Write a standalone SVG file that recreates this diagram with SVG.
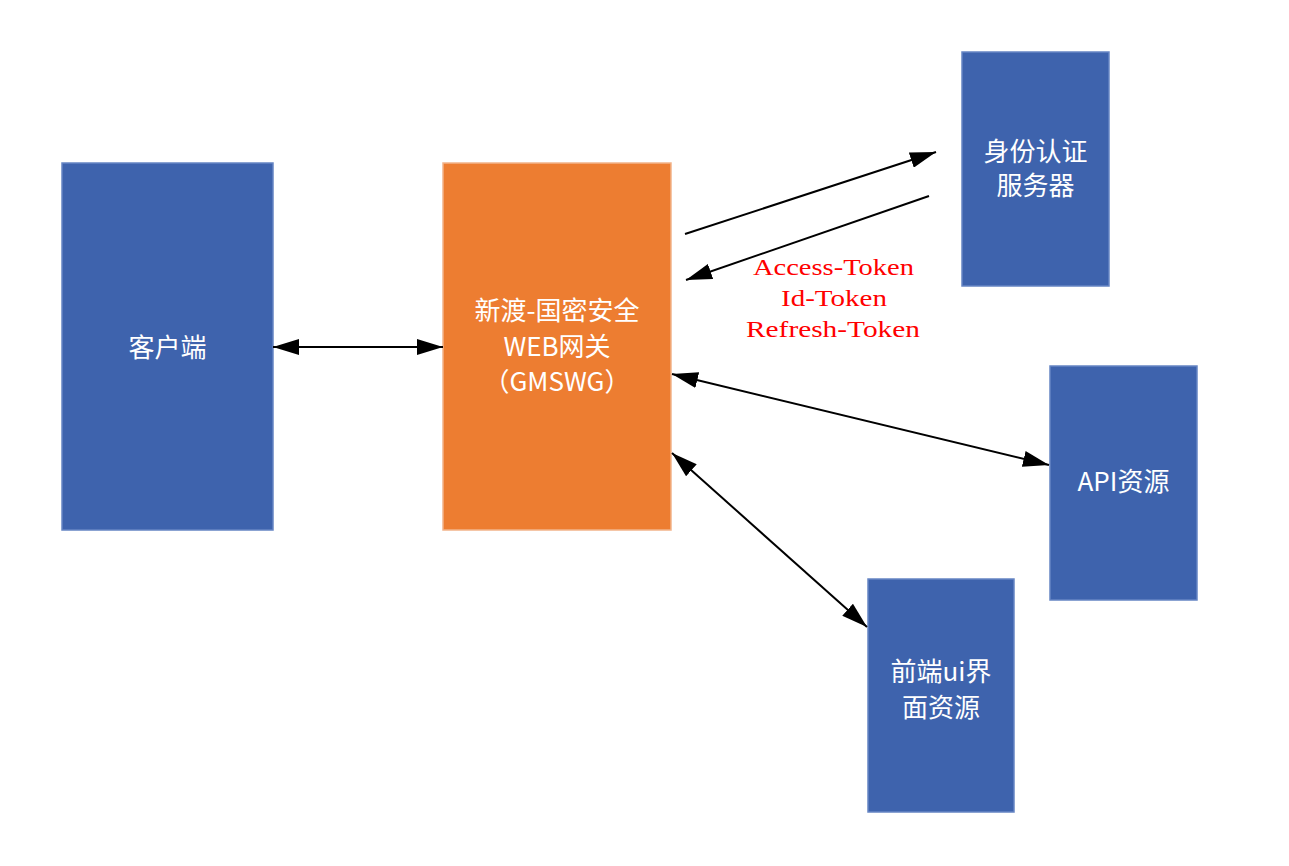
<svg xmlns="http://www.w3.org/2000/svg" width="1289" height="866" viewBox="0 0 1289 866">
<defs>
<style>
.blue{fill:#3E63AD;stroke:#6685C4;stroke-width:1.5}
.orange{fill:#ED7D31;stroke:#F2B48A;stroke-width:1.5}
.lbl{fill:#ffffff;font-family:"Noto Sans CJK SC","Noto Sans",sans-serif;font-size:26px;text-anchor:middle}
.tok{fill:#ff0000;font-family:"Liberation Serif","Noto Sans CJK SC",serif;font-size:23px;text-anchor:middle}
.conn{stroke:#000;stroke-width:2;fill:none}
</style>
<marker id="ah" markerUnits="userSpaceOnUse" markerWidth="26" markerHeight="16" refX="26" refY="8" orient="auto-start-reverse" viewBox="0 0 26 16">
<path d="M0,0 L26,8 L0,16 z" fill="#000"/>
</marker>
</defs>
<rect width="1289" height="866" fill="#fff"/>
<g id="client">
<rect class="blue" x="62" y="163" width="211" height="367"/>
<text class="lbl" x="167.5" y="357">客户端</text>
</g>
<g id="gateway">
<rect class="orange" x="443" y="163" width="228" height="367"/>
<text class="lbl" x="557" y="320">新渡-国密安全</text>
<text class="lbl" x="557" y="356">WEB网关</text>
<text class="lbl" x="557" y="391">（GMSWG）</text>
</g>
<g id="auth">
<rect class="blue" x="962" y="52" width="147" height="234"/>
<text class="lbl" x="1035.5" y="161">身份认证</text>
<text class="lbl" x="1035.5" y="195">服务器</text>
</g>
<g id="api">
<rect class="blue" x="1050" y="366" width="147" height="234"/>
<text class="lbl" x="1123.5" y="491">API资源</text>
</g>
<g id="frontend">
<rect class="blue" x="868" y="579" width="146" height="233"/>
<text class="lbl" x="941" y="681">前端ui界</text>
<text class="lbl" x="941" y="717">面资源</text>
</g>
<g id="connectors">
<line class="conn" x1="273" y1="347" x2="443" y2="347" marker-start="url(#ah)" marker-end="url(#ah)"/>
<line class="conn" x1="685" y1="234" x2="936" y2="152" marker-end="url(#ah)"/>
<line class="conn" x1="929" y1="196" x2="686" y2="280" marker-end="url(#ah)"/>
<line class="conn" x1="672" y1="374" x2="1049" y2="465" marker-start="url(#ah)" marker-end="url(#ah)"/>
<line class="conn" x1="672" y1="453" x2="867" y2="627" marker-start="url(#ah)" marker-end="url(#ah)"/>
</g>
<g id="tokens">
<text class="tok" x="833.5" y="275" textLength="161" lengthAdjust="spacingAndGlyphs">Access-Token</text>
<text class="tok" x="834" y="306" textLength="106" lengthAdjust="spacingAndGlyphs">Id-Token</text>
<text class="tok" x="833" y="337" textLength="174" lengthAdjust="spacingAndGlyphs">Refresh-Token</text>
</g>
</svg>
